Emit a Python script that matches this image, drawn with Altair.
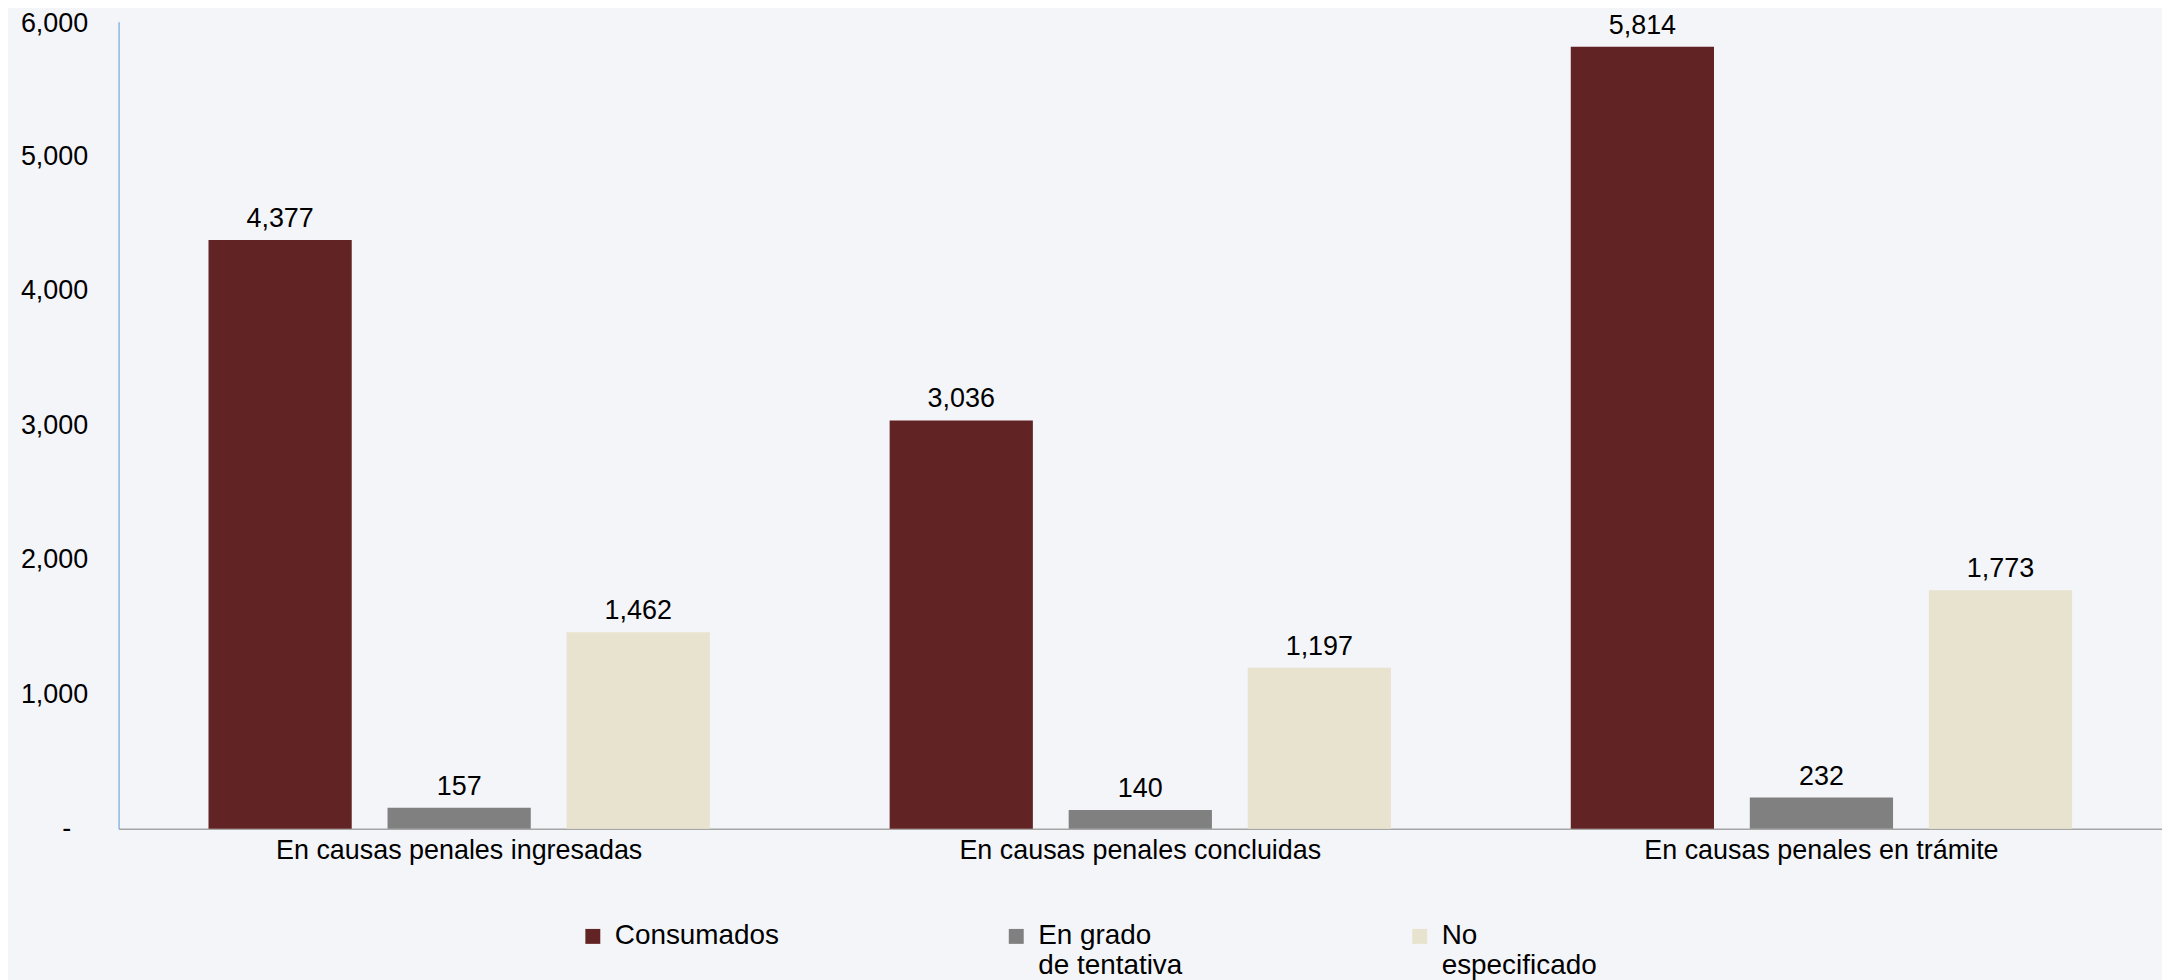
import altair as alt
import pandas as pd

categories = ["En causas penales ingresadas", "En causas penales concluidas", "En causas penales en trámite"]
series = ["Consumados", "En grado de tentativa", "No especificado"]
consumados = [4377, 3036, 5814]
tentativa = [157, 140, 232]
no_especificado = [1462, 1197, 1773]
colors = ["#622325", "#808080", "#E8E3CE"]
y_ticks = [0, 1000, 2000, 3000, 4000, 5000, 6000]

rows = []
for serie, vals in zip(series, [consumados, tentativa, no_especificado]):
    for cat, v in zip(categories, vals):
        rows.append({"categoria": cat, "serie": serie, "valor": v})
df = pd.DataFrame(rows)

FONT = "Liberation Sans"
FS = 27

base = alt.Chart(df).encode(
    x=alt.X(
        "categoria:N",
        sort=categories,
        scale=alt.Scale(paddingInner=0.264, paddingOuter=0.132),
        axis=alt.Axis(
            title=None, labelAngle=0, ticks=False, domainColor="#A6A6A6",
            domainWidth=1.5, labelFontSize=FS, labelPadding=9, labelLimit=800,
            labelColor="#000000", labelFont=FONT,
        ),
    ),
    xOffset=alt.XOffset(
        "serie:N", sort=series,
        scale=alt.Scale(paddingInner=0.2, paddingOuter=0),
    ),
    y=alt.Y(
        "valor:Q",
        scale=alt.Scale(domain=[0, 6000]),
        axis=alt.Axis(
            title=None, values=y_ticks, grid=False, ticks=False,
            domainColor="#8DB4E2", domainWidth=1.5,
            labelPadding={"condition": {"test": "datum.value == 0", "value": 48}, "value": 31},
            labelOffset={"condition": {"test": "datum.value == 6000", "value": 2}, "value": 0},
            labelFontSize=FS, labelColor="#000000", labelFont=FONT,
            labelExpr="datum.value == 0 ? '-' : format(datum.value, ',')",
        ),
    ),
)

bars = base.mark_bar().encode(
    color=alt.Color(
        "serie:N",
        sort=series,
        scale=alt.Scale(domain=series, range=colors),
        legend=alt.Legend(
            title=None, orient="none", legendX=462, legendY=904,
            direction="horizontal", columns=3, columnPadding=224,
            symbolType="square", symbolSize=225, symbolStrokeWidth=0,
            labelFontSize=28, labelFont=FONT, labelColor="#000000",
            labelOffset=8, labelLimit=500, labelBaseline="middle",
            labelExpr="datum.label == 'En grado de tentativa' ? ['En grado', 'de tentativa'] : datum.label == 'No especificado' ? ['No', 'especificado'] : [datum.label, ' ']",
        ),
    )
)

labels = base.mark_text(
    dy=-13, baseline="alphabetic", fontSize=FS, font=FONT, color="#000000"
).encode(text=alt.Text("valor:Q", format=","))

chart = (
    alt.layer(bars, labels)
    .properties(
        width=2051, height=810,
        autosize=alt.AutoSizeParams(type="none"),
        padding={"left": 111, "top": 12, "right": 0, "bottom": 170},
        background="#F4F5F9",
    )
    .configure_view(stroke=None)
)

chart.save("out.html", embed_options={"renderer": "svg", "actions": False})
